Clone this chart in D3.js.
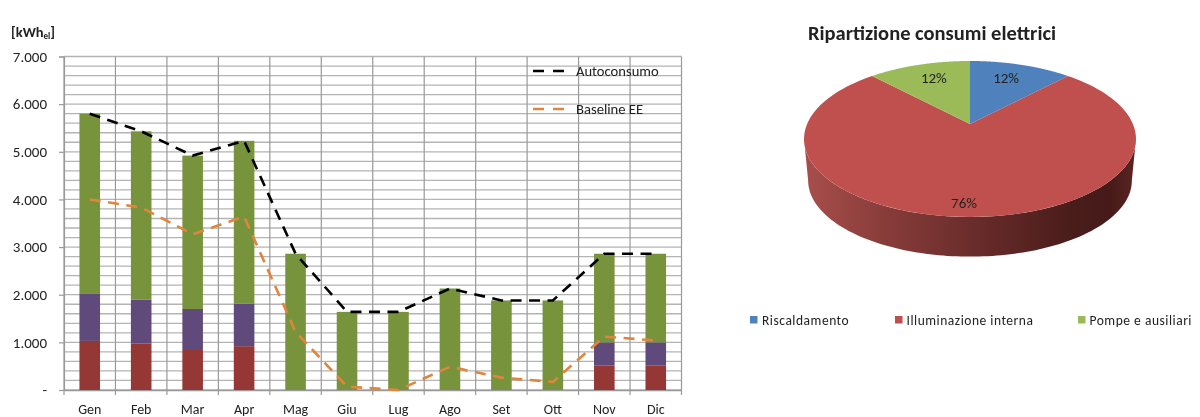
<!DOCTYPE html>
<html><head><meta charset="utf-8">
<script src="https://cdn.jsdelivr.net/npm/d3@7"></script>
<style>
html,body{margin:0;padding:0;background:#fff}
svg{display:block;filter:blur(0.45px)}
text{font-family:Carlito,Calibri,Lato,"Open Sans",sans-serif;fill:#222}
</style></head><body>
<svg id="c" width="1200" height="417"></svg>
<script>
const months = ["Gen","Feb","Mar","Apr","Mag","Giu","Lug","Ago","Set","Ott","Nov","Dic"];
const riscaldamento = [1030,980,860,920,0,0,0,0,0,0,510,510];
const pompe = [1000,920,840,890,0,0,0,0,0,0,490,490];
const illuminazione = [3770,3530,3220,3420,2860,1640,1640,2130,1880,1880,1860,1860];
const autoconsumo = [5800,5430,4920,5230,2860,1640,1640,2130,1880,1880,2860,2860];
const baselineEE = [4000,3830,3270,3640,1220,70,0,490,260,170,1120,1040];
const yTicks = [0,1000,2000,3000,4000,5000,6000,7000];
const yMinorTicks = d3.range(0,7001,200);
const lineLegend = ["Autoconsumo","Baseline EE"];
const pieTitle = "Ripartizione consumi elettrici";
const pieLabels = ["Riscaldamento","Illuminazione interna","Pompe e ausiliari"];
const pieValues = [12,76,12];

const svg = d3.select("#c");
const L=64,R=681.5,T=56.5,B=390;
const x = d3.scaleBand().domain(months).range([L,R]);
const y = d3.scaleLinear().domain([0,7000]).range([B,T]);
const barW = x.bandwidth()*0.4;
const mid = m => x(m)+x.bandwidth()/2;

const g = svg.append("g");
g.append("g").selectAll("line").data(yMinorTicks).join("line")
  .attr("x1",L).attr("x2",R).attr("y1",d=>y(d)).attr("y2",d=>y(d))
  .attr("stroke","#b4b4b4").attr("stroke-width",1.3);
g.append("g").selectAll("line").data(months.map(m=>x(m)).concat([R])).join("line")
  .attr("x1",d=>d).attr("x2",d=>d).attr("y1",T).attr("y2",B+5)
  .attr("stroke","#999").attr("stroke-width",1.2);

const axisY = d3.axisLeft(y).tickValues(yTicks).tickSize(5).tickPadding(12)
  .tickFormat(d=>d===0?"-":d3.format(",")(d).replace(/,/g,"."));
const ay = g.append("g").attr("transform",`translate(${L},0)`).call(axisY);
ay.select(".domain").attr("stroke","#999").attr("stroke-width",1.2);
ay.selectAll("line").attr("stroke","#999").attr("stroke-width",1.2);
ay.selectAll("text").attr("font-size",15).attr("fill","#333").style("font-family","Carlito,Calibri,Lato,sans-serif");

const axisX = d3.axisBottom(x).tickSize(0).tickPadding(14);
const ax = g.append("g").attr("transform",`translate(0,${B})`).call(axisX);
ax.select(".domain").attr("stroke","#999").attr("stroke-width",1.4);
ax.selectAll("text").attr("font-size",14).attr("fill","#333").style("font-family","Carlito,Calibri,Lato,sans-serif");

const stackSeries = [[riscaldamento,"#953735"],[pompe,"#604a7b"],[illuminazione,"#77933c"]];
months.forEach((m,i)=>{
  let base=0;
  stackSeries.forEach(([vals,col])=>{
    const v=vals[i];
    if(v>0) g.append("rect").attr("x",mid(m)-barW/2).attr("width",barW)
      .attr("y",y(base+v)).attr("height",y(base)-y(base+v)).attr("fill",col);
    base+=v;
  });
});

const line = d3.line().x((d,i)=>mid(months[i])).y(d=>y(d));
g.append("path").attr("d",line(baselineEE)).attr("fill","none")
  .attr("stroke","#e0853d").attr("stroke-width",2.6).attr("stroke-dasharray","11,7.5");
g.append("path").attr("d",line(autoconsumo)).attr("fill","none")
  .attr("stroke","#000").attr("stroke-width",2.6).attr("stroke-dasharray","11,7.5");

[["#000",71],["#e0853d",109]].forEach(([c,ly],i)=>{
  g.append("line").attr("x1",533).attr("x2",565).attr("y1",ly).attr("y2",ly)
    .attr("stroke",c).attr("stroke-width",2.4).attr("stroke-dasharray","11,9");
  g.append("text").attr("x",576).attr("y",ly+4.5).attr("font-size",14.6).text(lineLegend[i]);
});

const unit = g.append("text").attr("x",11).attr("y",37).attr("font-size",14.5).attr("font-weight",700);
unit.append("tspan").text("[kWh");
unit.append("tspan").attr("font-size",9).attr("dy",2).text("el");
unit.append("tspan").attr("dy",-2).text("]");

/* 3D pie: d3.pie angles projected through a perspective map of the unit disc */
const cx=970,cy=124,A=162.9,Bp=75.1,k=0.192,depth=42,shrink=0.975;
const proj=(a,r=1,s=1,dy=0)=>{
  const u=r*Math.sin(a),v=r*Math.cos(a),w=1+k*v;
  return [cx+s*A*u/w, cy+dy-s*Bp*v/w];
};
const pieColors=["#4f81bd","#c0504d","#9bbb59"];
const arcs=d3.pie().sort(null)(pieValues);
const path=d3.line();

const defs=svg.append("defs");
const grad=defs.append("linearGradient").attr("id","side").attr("gradientUnits","userSpaceOnUse")
  .attr("x1",804).attr("x2",1136).attr("y1",0).attr("y2",0);
[[0,"#a84e4b"],[0.25,"#873c3a"],[0.55,"#652a28"],[0.8,"#4a1d1b"],[0.92,"#451a18"],[1,"#5c2523"]]
  .forEach(([o,c])=>grad.append("stop").attr("offset",o).attr("stop-color",c));

const aR=Math.acos(-k), aL=2*Math.PI-aR;
const sideAngles=d3.range(0,121).map(i=>aR+(aL-aR)*i/120);
const sidePts=sideAngles.map(a=>proj(a)).concat(sideAngles.slice().reverse().map(a=>proj(a,1,shrink,depth)));
g.append("path").attr("d",path(sidePts)+"Z").attr("fill","url(#side)");

arcs.forEach((d,i)=>{
  const n=120;
  const pts=[proj(0,0)].concat(d3.range(0,n+1).map(j=>proj(d.startAngle+(d.endAngle-d.startAngle)*j/n)));
  g.append("path").attr("d",path(pts)+"Z").attr("fill",pieColors[i]);
});
const labelR=[0.76,0.876,0.76], labelDx=[-4,-6,4];
arcs.forEach((d,i)=>{
  const p=proj((d.startAngle+d.endAngle)/2,labelR[i]);
  g.append("text").attr("x",p[0]+labelDx[i]).attr("y",p[1]).attr("dy","0.35em").attr("text-anchor","middle")
    .attr("font-size",15).text(d3.format("d")(d.data)+"%");
});

g.append("text").attr("x",932).attr("y",40).attr("text-anchor","middle")
  .attr("font-size",20.5).attr("font-weight",700).attr("fill","#111").text(pieTitle);

const legX=[750,895,1078];
pieLabels.forEach((t,i)=>{
  g.append("rect").attr("x",legX[i]).attr("y",316).attr("width",7.5).attr("height",7.5).attr("fill",pieColors[i]);
  g.append("text").attr("x",legX[i]+(i==0?12:11.5)).attr("y",324.5).attr("font-size",13.5).attr("letter-spacing",0.52).text(t);
});
</script>
</body></html>
